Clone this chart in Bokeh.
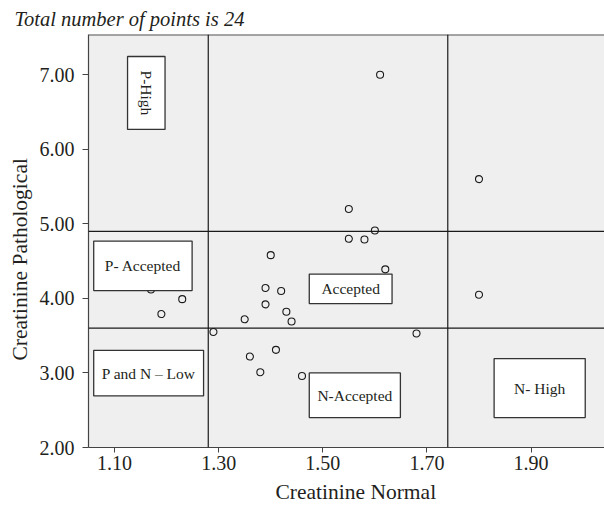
import math
from bokeh.plotting import figure
from bokeh.models import Span, FixedTicker, NumeralTickFormatter, ColumnDataSource, Title
from bokeh.core.properties import value
from bokeh.embed import file_html
from bokeh.resources import INLINE

# ---- data ----
creatinine_normal = [1.61, 1.80, 1.55, 1.60, 1.55, 1.58, 1.62, 1.80, 1.68, 1.46,
                     1.40, 1.39, 1.42, 1.39, 1.43, 1.44, 1.35, 1.29, 1.41, 1.36,
                     1.38, 1.23, 1.19, 1.17]
creatinine_pathological = [7.00, 5.60, 5.20, 4.91, 4.80, 4.79, 4.39, 4.05, 3.53, 2.96,
                           4.58, 4.14, 4.10, 3.92, 3.82, 3.69, 3.72, 3.55, 3.31, 3.22,
                           3.01, 3.99, 3.79, 4.12]
x_ticks = [1.10, 1.30, 1.50, 1.70, 1.90]
y_ticks = [2.0, 3.0, 4.0, 5.0, 6.0, 7.0]
normal_limits = [1.28, 1.74]
pathological_limits = [3.60, 4.90]

# zone label boxes (data units)
zone_labels = ["P-High", "P- Accepted", "P and N \u2013 Low", "Accepted", "N-Accepted", "N- High"]
zone_left = [1.125, 1.060, 1.060, 1.474, 1.474, 1.829]
zone_right = [1.197, 1.249, 1.271, 1.633, 1.649, 2.004]
zone_bottom = [6.267, 4.105, 2.692, 3.930, 2.402, 2.402]
zone_top = [7.245, 4.769, 3.304, 4.327, 3.000, 3.193]
zone_rot = [True, False, False, False, False, False]

SERIF = "Liberation Serif"
TXT = "#231f20"

p = figure(width=604, height=508, output_backend="svg", toolbar_location=None,
           x_range=(1.05, 2.041), y_range=(2.0, 7.54),
           min_border_left=87, min_border_right=0, min_border_top=34, min_border_bottom=61,
           title="Total number of points is 24")

p.border_fill_color = "white"
p.outline_line_color = None
p.grid.visible = False
p.background_fill_color = "#efefef"

p.title.text_font = SERIF
p.title.text_font_style = "italic"
p.title.text_font_size = "20.5px"
p.title.text_color = TXT
p.title.align = "left"
p.title.offset = -74

for ax in (p.xaxis[0], p.yaxis[0]):
    ax.axis_line_color = "#444444"
    ax.axis_line_width = 1.2
    ax.major_tick_line_color = "#444444"
    ax.major_tick_in = 0
    ax.minor_tick_line_color = None
    ax.major_label_text_font = SERIF
    ax.major_label_text_font_size = "20px"
    ax.major_label_text_color = TXT
    ax.formatter = NumeralTickFormatter(format="0.00")

p.xaxis.ticker = FixedTicker(ticks=x_ticks)
p.yaxis.ticker = FixedTicker(ticks=y_ticks)
p.xaxis.major_tick_out = 5
p.yaxis.major_tick_out = 6
p.xaxis.major_label_standoff = 3
p.yaxis.major_label_standoff = 8

# axis titles as side titles, positioned like the original
xt = Title(text="Creatinine Normal", align="left", offset=187, standoff=10,
           text_font=SERIF, text_font_size="21.5px", text_font_style="normal", text_color=TXT)
yt = Title(text="Creatinine Pathological", align="left", offset=87, standoff=10,
           text_font=SERIF, text_font_size="21.5px", text_font_style="normal", text_color=TXT)
p.add_layout(xt, "below")
p.add_layout(yt, "left")

# top border of frame
p.add_layout(Span(location=7.54, dimension="width", line_color="#555555", line_width=2))

for v in normal_limits:
    p.add_layout(Span(location=v, dimension="height", line_color="#1a1a1a", line_width=1.2))
for v in pathological_limits:
    p.add_layout(Span(location=v, dimension="width", line_color="#1a1a1a", line_width=1.2))

p.scatter(creatinine_normal, creatinine_pathological, size=7, marker="circle",
          fill_color=None, line_color="#1a1a1a", line_width=1.1)

src = ColumnDataSource(dict(
    left=zone_left, right=zone_right, bottom=zone_bottom, top=zone_top,
    cx=[(a + b) / 2 for a, b in zip(zone_left, zone_right)],
    cy=[(a + b) / 2 for a, b in zip(zone_bottom, zone_top)],
    label=zone_labels,
    angle=[-math.pi / 2 if r else 0.0 for r in zone_rot],
))
p.quad(left="left", right="right", bottom="bottom", top="top", source=src,
       fill_color="white", line_color="#333333", line_width=1.3)
p.text(x="cx", y="cy", text="label", angle="angle", source=src,
       text_font=value(SERIF), text_font_size="15.5px", text_color=TXT,
       text_align="center", text_baseline="middle")

open("out.html", "w").write(file_html(p, INLINE))
